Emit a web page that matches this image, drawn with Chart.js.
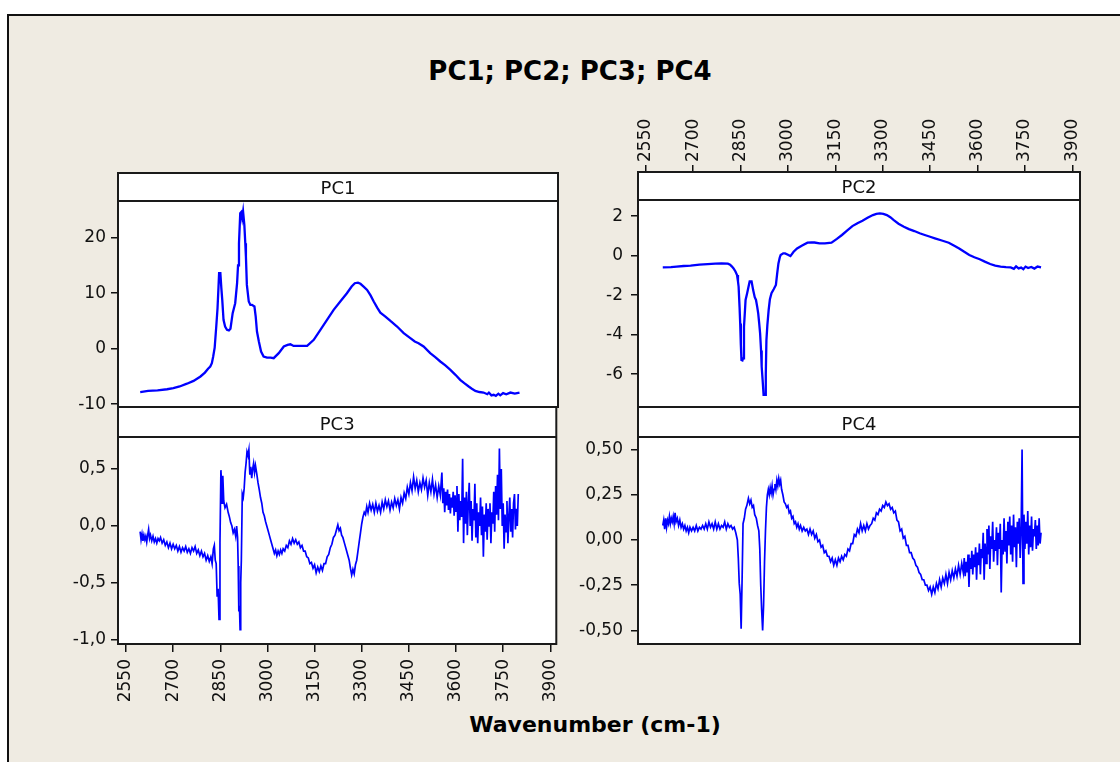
<!DOCTYPE html>
<html><head><meta charset="utf-8">
<script src="https://cdn.jsdelivr.net/npm/chart.js@4.4.1/dist/chart.umd.min.js"></script>
<style>
html,body{margin:0;padding:0;background:#fff;width:1120px;height:762px;overflow:hidden;font-family:"DejaVu Sans",sans-serif;}
#frame{position:absolute;left:7px;top:14px;width:1113px;height:748px;background:#EFEBE2;border-left:2px solid #111;border-top:2px solid #111;box-sizing:border-box;}
#title{position:absolute;left:0;width:1140px;top:56px;line-height:30px;text-align:center;font-weight:bold;font-size:26px;color:#000;}
#xlabel{position:absolute;left:0;width:1190px;top:712px;line-height:26px;text-align:center;font-weight:bold;font-size:22px;color:#000;}
canvas{position:absolute;}
</style></head>
<body>
<div id="frame"></div>
<div id="title">PC1; PC2; PC3; PC4</div>
<div id="xlabel">Wavenumber (cm-1)</div>
<script>
// ---- tick values / labels ----
const xTicks = [2550, 2700, 2850, 3000, 3150, 3300, 3450, 3600, 3750, 3900];
const pc1Ticks = [-10, 0, 10, 20];
const pc1TickLabels = ['-10', '0', '10', '20'];
const pc2Ticks = [-6, -4, -2, 0, 2];
const pc2TickLabels = ['-6', '-4', '-2', '0', '2'];
const pc3Ticks = [-1, -0.5, 0, 0.5];
const pc3TickLabels = ['-1,0', '-0,5', '0,0', '0,5'];
const pc4Ticks = [-0.5, -0.25, 0, 0.25, 0.5];
const pc4TickLabels = ['-0,50', '-0,25', '0,00', '0,25', '0,50'];

// ---- series: [wavenumber, value] ----
const pc1Data = [[2595,-7.8],[2620,-7.6],[2650,-7.5],[2680,-7.3],[2700,-7.1],[2720,-6.8],[2743,-6.3],[2764,-5.8],[2786,-5.0],[2800,-4.3],[2810,-3.6],[2817,-3.2],[2822,-2.6],[2826,-1.5],[2831,0.2],[2836,4.0],[2840,7.3],[2843,11],[2845,13.6],[2849,13.6],[2852,11],[2855,8.8],[2859,5.2],[2864,4.0],[2870,3.4],[2876,3.3],[2881,3.6],[2888,6.4],[2896,8.2],[2902,11.8],[2905,15],[2908,19],[2912,24.4],[2915,24.6],[2918,23.5],[2921,24.7],[2925,22.3],[2928,19],[2930,16.6],[2933,11.5],[2939,8.5],[2944,7.9],[2949,7.9],[2957,7.6],[2961,5.8],[2965,3.1],[2971,1.3],[2978,-0.5],[2986,-1.4],[2997,-1.6],[3008,-1.6],[3018,-1.7],[3034,-0.8],[3050,0.4],[3062,0.7],[3071,0.8],[3081,0.5],[3100,0.5],[3124,0.5],[3145,1.6],[3166,3.4],[3187,5.2],[3208,7.0],[3229,8.5],[3250,10.0],[3265,11.2],[3275,11.8],[3285,11.9],[3293,11.7],[3303,11.2],[3314,10.6],[3325,9.6],[3335,8.5],[3346,7.4],[3356,6.5],[3372,5.8],[3388,5.0],[3409,4.0],[3430,2.8],[3451,1.9],[3465,1.3],[3477,1.0],[3493,0.4],[3514,-0.8],[3530,-1.5],[3546,-2.3],[3562,-3.0],[3578,-3.8],[3594,-4.7],[3609,-5.6],[3622,-6.2],[3636,-6.8],[3646,-7.2],[3657,-7.6],[3670,-7.8],[3683,-7.9],[3695,-8.2],[3700,-7.9],[3708,-8.4],[3715,-8.3],[3722,-8.5],[3730,-8.1],[3736,-8.4],[3745,-8.0],[3755,-8.2],[3768,-7.9],[3782,-8.1],[3797,-7.9]];

const pc2Data = [[2604,-0.59],[2630,-0.58],[2648,-0.55],[2670,-0.52],[2692,-0.5],[2720,-0.45],[2746,-0.42],[2770,-0.4],[2790,-0.39],[2810,-0.4],[2817,-0.45],[2823,-0.55],[2828,-0.64],[2834,-0.8],[2839,-0.98],[2842,-1.3],[2844,-1.57],[2847,-2.6],[2849,-3.43],[2851,-4.5],[2853,-5.28],[2856,-5.3],[2858,-5.2],[2861,-3.6],[2864,-2.8],[2866,-2.24],[2871,-1.9],[2875,-1.6],[2879,-1.3],[2885,-1.3],[2890,-1.74],[2895,-2.1],[2899,-2.24],[2903,-2.6],[2906,-2.92],[2909,-3.4],[2912,-3.93],[2915,-4.8],[2917,-5.62],[2920,-6.3],[2923,-7.05],[2928,-7.05],[2930,-6.0],[2932,-4.27],[2935,-3.5],[2939,-2.75],[2943,-2.2],[2948,-1.9],[2955,-1.7],[2962,-1.48],[2966,-0.9],[2970,-0.39],[2974,-0.1],[2977,0.04],[2985,0.12],[2991,0.12],[3000,0.05],[3008,-0.02],[3018,0.2],[3029,0.37],[3045,0.52],[3062,0.66],[3075,0.68],[3084,0.67],[3100,0.63],[3117,0.63],[3138,0.66],[3155,0.85],[3171,1.05],[3188,1.28],[3204,1.5],[3220,1.65],[3236,1.77],[3252,1.92],[3269,2.06],[3280,2.12],[3291,2.14],[3302,2.12],[3313,2.06],[3324,1.95],[3335,1.8],[3350,1.62],[3367,1.47],[3383,1.35],[3400,1.25],[3417,1.14],[3433,1.05],[3450,0.96],[3465,0.88],[3487,0.77],[3509,0.66],[3525,0.52],[3542,0.37],[3558,0.2],[3574,0.04],[3590,-0.08],[3607,-0.18],[3623,-0.3],[3640,-0.42],[3656,-0.5],[3673,-0.55],[3690,-0.58],[3705,-0.59],[3715,-0.66],[3722,-0.54],[3730,-0.64],[3738,-0.6],[3745,-0.68],[3752,-0.55],[3760,-0.62],[3770,-0.57],[3780,-0.65],[3790,-0.55],[3801,-0.59]];

const pc3Data = [[2595,-0.05],[2598,-0.12],[2601,-0.07],[2604,-0.13],[2607,-0.08],[2610,-0.12],[2613,-0.09],[2616,-0.14],[2619,-0.08],[2622,-0.03],[2625,-0.11],[2628,-0.08],[2632,-0.13],[2636,-0.09],[2640,-0.14],[2644,-0.11],[2648,-0.15],[2652,-0.11],[2656,-0.13],[2660,-0.1],[2665,-0.15],[2670,-0.12],[2675,-0.17],[2680,-0.14],[2685,-0.19],[2690,-0.15],[2695,-0.2],[2700,-0.16],[2705,-0.2],[2710,-0.17],[2715,-0.22],[2720,-0.18],[2725,-0.23],[2730,-0.19],[2735,-0.22],[2740,-0.18],[2745,-0.23],[2750,-0.2],[2755,-0.24],[2760,-0.19],[2765,-0.22],[2770,-0.18],[2775,-0.24],[2780,-0.21],[2785,-0.26],[2790,-0.22],[2795,-0.27],[2800,-0.24],[2805,-0.3],[2810,-0.26],[2815,-0.31],[2820,-0.27],[2824,-0.33],[2828,-0.2],[2831,-0.17],[2834,-0.3],[2837,-0.33],[2840,-0.62],[2843,-0.55],[2846,-0.82],[2849,-0.15],[2852,0.49],[2854,0.38],[2856,0.2],[2858,0.44],[2861,0.22],[2865,0.16],[2870,0.19],[2875,0.12],[2879,0.08],[2883,0.03],[2887,0.0],[2891,-0.06],[2895,-0.03],[2899,-0.09],[2902,0.0],[2905,-0.1],[2907,-0.35],[2909,-0.75],[2911,-0.7],[2913,-0.91],[2915,-0.5],[2917,-0.3],[2920,0.28],[2923,0.25],[2926,0.33],[2929,0.47],[2932,0.55],[2935,0.65],[2938,0.62],[2941,0.67],[2944,0.45],[2947,0.52],[2950,0.42],[2953,0.5],[2956,0.55],[2959,0.47],[2962,0.53],[2966,0.46],[2970,0.38],[2974,0.32],[2978,0.25],[2982,0.2],[2986,0.12],[2990,0.09],[2994,0.04],[2998,0.0],[3002,-0.04],[3006,-0.08],[3010,-0.12],[3014,-0.16],[3018,-0.2],[3022,-0.24],[3026,-0.21],[3030,-0.26],[3034,-0.22],[3038,-0.25],[3042,-0.21],[3046,-0.24],[3050,-0.2],[3055,-0.22],[3060,-0.17],[3065,-0.19],[3070,-0.13],[3075,-0.16],[3080,-0.11],[3085,-0.15],[3090,-0.12],[3095,-0.16],[3100,-0.14],[3105,-0.19],[3110,-0.17],[3115,-0.22],[3120,-0.22],[3125,-0.27],[3130,-0.28],[3135,-0.33],[3140,-0.32],[3145,-0.37],[3150,-0.34],[3155,-0.41],[3160,-0.36],[3165,-0.4],[3170,-0.35],[3175,-0.39],[3180,-0.33],[3185,-0.33],[3190,-0.27],[3195,-0.25],[3200,-0.19],[3205,-0.16],[3210,-0.1],[3215,-0.08],[3220,-0.03],[3224,0.01],[3228,-0.04],[3232,-0.02],[3236,-0.08],[3240,-0.1],[3245,-0.15],[3250,-0.2],[3255,-0.25],[3260,-0.3],[3264,-0.37],[3268,-0.43],[3272,-0.38],[3276,-0.42],[3280,-0.34],[3284,-0.3],[3288,-0.22],[3292,-0.14],[3296,-0.06],[3300,0.02],[3304,0.08],[3308,0.12],[3312,0.1],[3316,0.17],[3320,0.12],[3325,0.2],[3330,0.14],[3335,0.19],[3340,0.12],[3345,0.2],[3350,0.13],[3355,0.18],[3360,0.12],[3365,0.21],[3370,0.15],[3375,0.23],[3380,0.17],[3385,0.22],[3390,0.14],[3395,0.21],[3400,0.16],[3405,0.24],[3410,0.18],[3415,0.23],[3420,0.15],[3425,0.25],[3430,0.2],[3435,0.29],[3440,0.24],[3445,0.34],[3450,0.28],[3455,0.38],[3460,0.31],[3465,0.43],[3470,0.33],[3475,0.4],[3480,0.3],[3485,0.38],[3490,0.32],[3495,0.42],[3500,0.34],[3505,0.4],[3510,0.27],[3515,0.38],[3520,0.3],[3525,0.41],[3530,0.28],[3535,0.36],[3540,0.25],[3545,0.35],[3550,0.27],[3555,0.47],[3558,0.2],[3561,0.33],[3564,0.12],[3567,0.3],[3570,0.18],[3573,0.32],[3576,0.14],[3579,0.28],[3582,0.11],[3585,0.25],[3588,0.16],[3591,0.3],[3594,0.09],[3597,0.27],[3600,0.13],[3603,0.35],[3606,-0.05],[3609,0.28],[3612,0.05],[3615,0.22],[3618,0.08],[3621,0.59],[3624,-0.15],[3627,0.25],[3630,0.02],[3633,0.3],[3636,-0.08],[3639,0.2],[3642,0.38],[3645,0.0],[3648,0.22],[3651,-0.13],[3654,0.15],[3657,0.05],[3660,0.37],[3663,-0.1],[3666,0.2],[3669,-0.15],[3672,0.12],[3675,0.0],[3678,0.25],[3681,-0.08],[3684,0.17],[3687,-0.27],[3690,0.1],[3693,-0.05],[3696,0.2],[3699,-0.12],[3702,0.15],[3705,0.0],[3708,0.2],[3711,-0.15],[3714,0.12],[3717,0.02],[3720,0.3],[3723,-0.05],[3726,0.35],[3729,0.1],[3732,0.45],[3735,0.05],[3738,0.68],[3741,0.15],[3744,0.5],[3747,0.0],[3750,0.2],[3753,-0.2],[3756,0.1],[3759,-0.05],[3762,0.22],[3765,-0.15],[3768,0.08],[3771,0.25],[3774,-0.05],[3777,0.15],[3780,-0.1],[3783,0.2],[3786,0.28],[3789,-0.03],[3792,0.15],[3795,0.0],[3798,0.28]];

const pc4Data = [[2604,0.08],[2607,0.11],[2610,0.06],[2613,0.12],[2616,0.07],[2619,0.11],[2622,0.09],[2625,0.13],[2628,0.09],[2631,0.12],[2634,0.1],[2637,0.13],[2640,0.09],[2643,0.15],[2646,0.1],[2650,0.12],[2654,0.08],[2658,0.11],[2662,0.07],[2666,0.09],[2670,0.06],[2674,0.08],[2678,0.05],[2682,0.07],[2686,0.04],[2690,0.07],[2695,0.05],[2700,0.07],[2705,0.05],[2710,0.08],[2715,0.05],[2720,0.07],[2725,0.06],[2730,0.08],[2735,0.06],[2740,0.09],[2745,0.06],[2750,0.1],[2755,0.07],[2760,0.09],[2765,0.06],[2770,0.1],[2775,0.06],[2780,0.09],[2785,0.06],[2790,0.08],[2795,0.07],[2800,0.1],[2805,0.06],[2810,0.09],[2815,0.07],[2820,0.08],[2825,0.06],[2830,0.07],[2835,0.04],[2840,0.0],[2843,-0.1],[2846,-0.24],[2849,-0.3],[2852,-0.49],[2855,-0.22],[2858,0.09],[2862,0.12],[2866,0.17],[2870,0.19],[2875,0.23],[2879,0.2],[2883,0.22],[2887,0.18],[2891,0.19],[2895,0.14],[2900,0.12],[2904,0.08],[2908,0.05],[2911,-0.05],[2914,-0.25],[2917,-0.39],[2920,-0.5],[2923,-0.36],[2926,-0.12],[2929,0.05],[2932,0.18],[2935,0.25],[2938,0.28],[2941,0.25],[2944,0.29],[2947,0.26],[2950,0.3],[2953,0.25],[2956,0.28],[2959,0.31],[2962,0.28],[2965,0.33],[2968,0.3],[2971,0.34],[2974,0.31],[2977,0.33],[2980,0.28],[2984,0.25],[2988,0.21],[2992,0.2],[2996,0.18],[3000,0.19],[3004,0.15],[3008,0.16],[3012,0.12],[3016,0.13],[3020,0.09],[3024,0.1],[3028,0.07],[3032,0.09],[3036,0.06],[3040,0.08],[3045,0.05],[3050,0.07],[3055,0.05],[3060,0.06],[3065,0.03],[3070,0.06],[3075,0.03],[3080,0.05],[3085,0.01],[3090,0.03],[3095,-0.01],[3100,0.0],[3105,-0.04],[3110,-0.03],[3115,-0.07],[3120,-0.06],[3125,-0.09],[3130,-0.09],[3135,-0.12],[3140,-0.1],[3145,-0.14],[3150,-0.11],[3155,-0.14],[3160,-0.1],[3165,-0.12],[3170,-0.09],[3175,-0.11],[3180,-0.08],[3185,-0.09],[3190,-0.05],[3195,-0.06],[3200,-0.02],[3205,-0.02],[3210,0.03],[3215,0.02],[3220,0.06],[3225,0.04],[3230,0.09],[3235,0.05],[3240,0.08],[3245,0.05],[3250,0.09],[3255,0.06],[3260,0.08],[3265,0.09],[3270,0.12],[3275,0.11],[3280,0.15],[3285,0.14],[3290,0.17],[3295,0.16],[3300,0.19],[3305,0.18],[3310,0.21],[3315,0.19],[3320,0.2],[3325,0.17],[3330,0.18],[3335,0.15],[3340,0.16],[3345,0.11],[3350,0.1],[3355,0.05],[3360,0.06],[3365,0.01],[3370,0.02],[3375,-0.03],[3380,-0.03],[3385,-0.07],[3390,-0.07],[3395,-0.1],[3400,-0.11],[3405,-0.14],[3410,-0.15],[3415,-0.18],[3420,-0.19],[3425,-0.22],[3430,-0.22],[3435,-0.25],[3440,-0.25],[3445,-0.28],[3450,-0.26],[3455,-0.3],[3460,-0.26],[3465,-0.29],[3470,-0.24],[3475,-0.27],[3480,-0.22],[3485,-0.26],[3490,-0.21],[3495,-0.24],[3500,-0.19],[3505,-0.24],[3510,-0.18],[3515,-0.22],[3520,-0.17],[3525,-0.21],[3530,-0.16],[3535,-0.2],[3540,-0.14],[3545,-0.19],[3550,-0.13],[3555,-0.18],[3558,-0.1],[3561,-0.2],[3564,-0.12],[3567,-0.18],[3570,-0.08],[3573,-0.26],[3576,-0.1],[3579,-0.16],[3582,-0.06],[3585,-0.19],[3588,-0.08],[3591,-0.15],[3594,-0.04],[3597,-0.22],[3600,-0.07],[3603,-0.14],[3606,-0.02],[3609,-0.19],[3612,-0.05],[3615,-0.1],[3618,0.04],[3621,-0.22],[3624,-0.02],[3627,-0.13],[3630,0.06],[3633,-0.08],[3636,0.08],[3639,-0.16],[3642,0.02],[3645,-0.05],[3648,0.1],[3651,-0.12],[3654,0.0],[3657,-0.06],[3660,0.07],[3663,-0.14],[3666,0.04],[3669,-0.05],[3672,0.09],[3675,-0.29],[3678,0.0],[3681,-0.08],[3684,0.12],[3687,-0.06],[3690,0.05],[3693,-0.13],[3696,0.1],[3699,-0.03],[3702,0.13],[3705,-0.08],[3708,0.08],[3711,-0.12],[3714,0.14],[3717,-0.04],[3720,0.07],[3723,-0.15],[3726,0.1],[3729,-0.02],[3732,0.12],[3735,-0.1],[3738,0.05],[3741,0.5],[3744,-0.24],[3747,0.14],[3750,-0.05],[3753,0.1],[3756,-0.02],[3759,0.16],[3762,-0.08],[3765,0.08],[3768,-0.04],[3771,0.13],[3774,-0.06],[3777,0.06],[3780,0.02],[3783,0.11],[3786,-0.05],[3789,0.08],[3792,-0.03],[3795,0.12],[3798,-0.02],[3801,0.04]];

// ---- drawing ----
Chart.defaults.font.family = '"DejaVu Sans", sans-serif';
Chart.defaults.color = '#111';
const TICK_FONT = 17;

const stripPlugin = {
  id: 'strip',
  beforeDraw(chart, args, o) {
    const a = chart.chartArea, ctx = chart.ctx;
    ctx.save();
    ctx.fillStyle = '#ffffff';
    ctx.fillRect(a.left, a.top, a.right - a.left, a.bottom - a.top);
    ctx.restore();
  },
  afterDraw(chart, args, o) {
    const a = chart.chartArea, ctx = chart.ctx;
    ctx.save();
    ctx.strokeStyle = '#1a1a1a';
    ctx.lineWidth = 2;
    ctx.strokeRect(a.left, a.top, a.right - a.left, a.bottom - a.top);
    ctx.beginPath();
    ctx.moveTo(a.left, a.top + o.height);
    ctx.lineTo(a.right, a.top + o.height);
    ctx.stroke();
    ctx.fillStyle = '#111';
    ctx.font = '18px "DejaVu Sans", sans-serif';
    ctx.textAlign = 'center';
    ctx.textBaseline = 'alphabetic';
    ctx.fillText(o.text, (a.left + a.right) / 2, a.top + o.baseline);
    ctx.restore();
  }
};

function makePanel(cfg) {
  const M = {l: 130, t: 90, r: 20, b: 90};
  const area = cfg.area;
  const W = area.r - area.l + M.l + M.r, H = area.b - area.t + M.t + M.b;
  const cv = document.createElement('canvas');
  cv.width = W; cv.height = H;
  cv.style.left = (area.l - M.l) + 'px';
  cv.style.top = (area.t - M.t) + 'px';
  cv.style.width = W + 'px';
  cv.style.height = H + 'px';
  document.body.appendChild(cv);
  const yW = 110, xH = 80;
  const gridOpts = {display: true, drawOnChartArea: false, drawTicks: true, tickLength: 7, color: '#111', lineWidth: 1.5};
  const xScale = {
    type: 'linear', position: cfg.xPos || 'bottom', display: !!cfg.xPos,
    min: cfg.xMin, max: cfg.xMax,
    afterBuildTicks: s => { s.ticks = xTicks.map(v => ({value: v})); },
    ticks: {autoSkip: false, minRotation: 90, maxRotation: 90, padding: cfg.xPad || 4,
      labelOffset: cfg.xPos === 'top' ? TICK_FONT * 1.2 : 0,
      font: {size: TICK_FONT}, color: '#111', callback: v => String(v)},
    grid: Object.assign({}, gridOpts, {tickLength: cfg.xTickLen || 7}),
    border: {display: false}
  };
  if (cfg.xPos) xScale.afterFit = s => { s.height = xH; };
  new Chart(cv, {
    type: 'line',
    data: {datasets: [{
      data: cfg.points.map(p => ({x: p[0], y: p[1]})),
      borderColor: '#0000ff', borderWidth: cfg.lw, pointRadius: 0, tension: 0, fill: false
    }]},
    options: {
      responsive: false, animation: false, devicePixelRatio: 1,
      layout: {padding: {
        left: M.l - yW, right: M.r,
        top: cfg.xPos === 'top' ? M.t - xH : M.t,
        bottom: cfg.xPos === 'bottom' ? M.b - xH : M.b
      }},
      plugins: {legend: {display: false}, tooltip: {enabled: false},
        strip: {text: cfg.name, height: cfg.stripH, baseline: cfg.stripBase}},
      scales: {
        x: xScale,
        y: {
          type: 'linear', min: cfg.yMin, max: cfg.yMax,
          afterBuildTicks: s => { s.ticks = cfg.yTicks.map(v => ({value: v})); },
          afterFit: s => { s.width = yW; },
          ticks: {padding: cfg.yPad, font: {size: TICK_FONT}, color: '#111',
            callback: v => cfg.yLabels[cfg.yTicks.indexOf(v)]},
          grid: gridOpts,
          border: {display: false}
        }
      }
    },
    plugins: [stripPlugin]
  });
}

makePanel({name: 'PC1', points: pc1Data, lw: 2.3, area: {l: 118, t: 173, r: 558, b: 407},
  xMin: 2524.6, xMax: 3919, yMin: -10.5, yMax: 31.66, yTicks: pc1Ticks, yLabels: pc1TickLabels,
  yPad: 5, stripH: 28, stripBase: 21});
makePanel({name: 'PC2', points: pc2Data, lw: 2.3, area: {l: 638, t: 172, r: 1080, b: 407},
  xMin: 2525.6, xMax: 3924.3, yMin: -7.66, yMax: 4.24, yTicks: pc2Ticks, yLabels: pc2TickLabels,
  yPad: 8, stripH: 28, stripBase: 21, xPos: 'top', xPad: 3});
makePanel({name: 'PC3', points: pc3Data, lw: 1.7, area: {l: 118, t: 407, r: 558, b: 644},
  xMin: 2524.6, xMax: 3919, yMin: -1.035, yMax: 1.044, yTicks: pc3Ticks, yLabels: pc3TickLabels,
  yPad: 5, stripH: 30, stripBase: 23, xPos: 'bottom', xPad: 7, xTickLen: 8});
makePanel({name: 'PC4', points: pc4Data, lw: 1.7, area: {l: 638, t: 407, r: 1080, b: 644},
  xMin: 2525.6, xMax: 3924.3, yMin: -0.575, yMax: 0.735, yTicks: pc4Ticks, yLabels: pc4TickLabels,
  yPad: 8, stripH: 30, stripBase: 23});
</script>
</body></html>
